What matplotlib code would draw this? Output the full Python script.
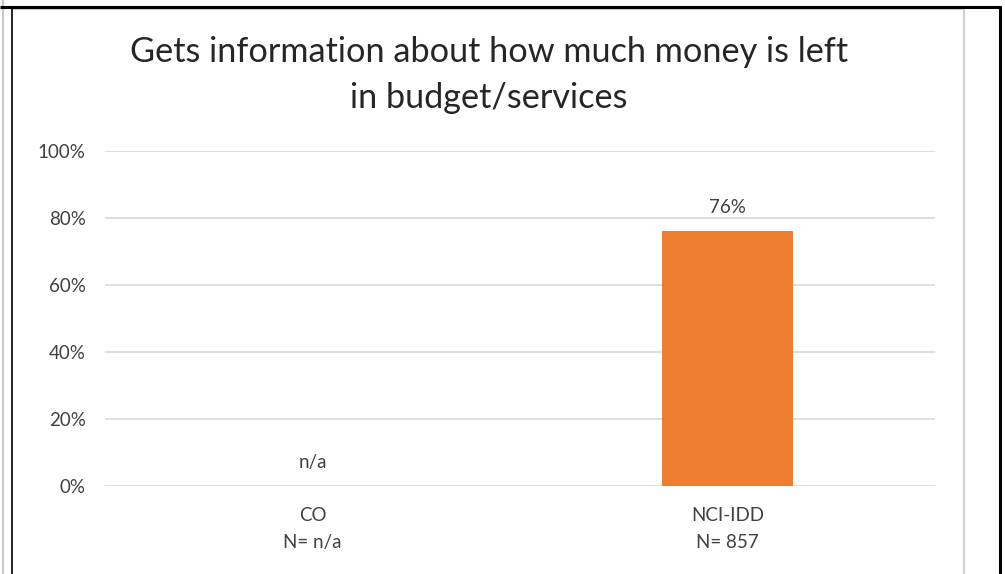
import matplotlib
matplotlib.use("Agg")
import matplotlib.pyplot as plt
from matplotlib.lines import Line2D
import numpy as np

# Data
categories = ["CO", "NCI-IDD"]
n_labels = ["n/a", "857"]
values = [np.nan, 0.76]
value_labels = ["n/a", "76%"]
yticks = [0, 0.2, 0.4, 0.6, 0.8, 1.0]
ytick_labels = ["0%", "20%", "40%", "60%", "80%", "100%"]
title = "Gets information about how much money is left\nin budget/services"

W, H = 1005, 574
plt.rcParams['font.family'] = ['Lato', 'DejaVu Sans']
txt = "#404040"
fs = 13.5

fig = plt.figure(figsize=(W / 100, H / 100), dpi=100)
ax = fig.add_axes([105 / W, 88 / H, 830 / W, 335 / H])

x = np.arange(len(categories))
bar_vals = [0 if np.isnan(v) else v for v in values]
ax.bar(x, bar_vals, width=0.316, color="#ED7D31", zorder=3)
for xi, v, lab in zip(x, values, value_labels):
    yv = 0 if np.isnan(v) else v
    ax.annotate(lab, (xi, yv), xytext=(0, 11), textcoords="offset points",
                ha="center", va="bottom", fontsize=fs, color=txt)

ax.set_xlim(-0.5, 1.5)
ax.set_ylim(0, 1.0)
ax.set_yticks(yticks)
ax.set_yticklabels(ytick_labels, fontsize=fs, color=txt)
ax.set_xticks(x)
ax.set_xticklabels([f"{c}\nN= {n}" for c, n in zip(categories, n_labels)],
                   fontsize=fs, color=txt, linespacing=1.75)
ax.tick_params(axis="both", length=0)
ax.tick_params(axis="y", pad=14)
ax.tick_params(axis="x", pad=15)
ax.grid(axis="y", color="#d9d9d9", linewidth=1.2, zorder=0)
for s in ax.spines.values():
    s.set_visible(False)

fig.text(489 / W, 1 - 75 / H, title, ha="center", va="center",
         fontsize=24.7, color="#262626", linespacing=1.55)

def fl(x0, y0, x1, y1, color, lw):
    fig.add_artist(Line2D([x0 / W, x1 / W], [1 - y0 / H, 1 - y1 / H],
                          transform=fig.transFigure, color=color, lw=lw,
                          solid_capstyle="butt"))

# Borders
fl(2.5, 0, 2.5, H, "#c8c8c8", 1.5)
fl(12, 8.5, 963.5, 8.5, "#d0d0d0", 1.5)
fl(963.5, 8.5, 963.5, H, "#d0d0d0", 1.5)
fl(0, 6.5, 1001, 6.5, "black", 2.2)
fl(12, 6, 12, H, "black", 1.2)
fl(1000, 6, 1000, H, "black", 2.2)

fig.savefig("out.png", dpi=100)
